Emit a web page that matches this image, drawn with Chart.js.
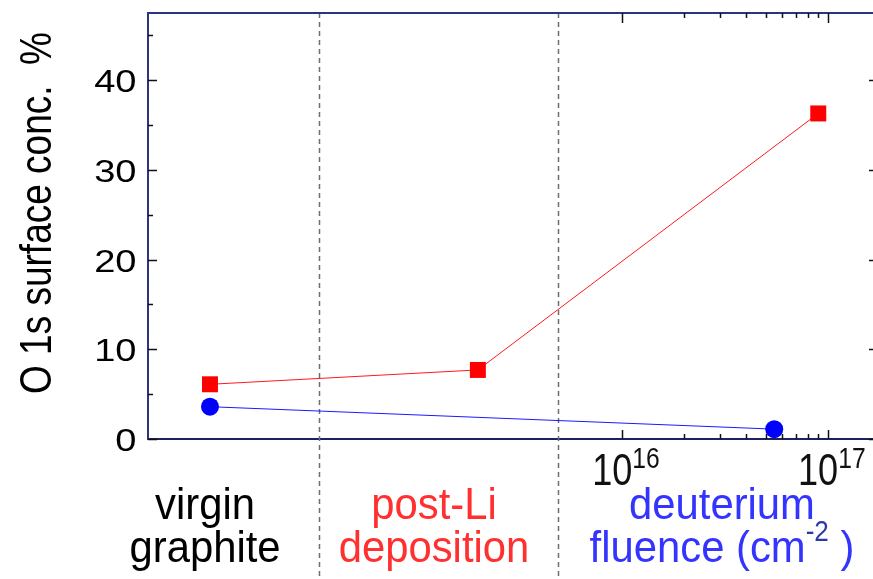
<!doctype html>
<html lang="en">
<head>
<meta charset="utf-8">
<title>O 1s surface concentration</title>
<style>
  * { margin: 0; padding: 0; }
  body { background: #fff; }
  #chart { display: block; }
</style>
</head>
<body>
<canvas id="chart" width="873" height="579"></canvas>
<script src="https://cdn.jsdelivr.net/npm/chart.js/dist/chart.umd.min.js"></script>
<script>
// x: first two entries place the virgin / post-Li stages on the fluence axis,
// the rest are deuterium fluences in cm^-2
const squareX = [1e14, 2e15, 9e16];
const squareO = [6.1, 7.7, 36.3];
const circleX = [1e14, 5.5e16];
const circleO = [3.6, 1.1];

// boundaries between the three stages
const stageEdges = [3.4e14, 4.9e15];

const yTicks = [0, 10, 20, 30, 40];
const yMinor = [5, 15, 25, 35, 45];
const fluenceTicks = [1e16, 2e16, 3e16, 4e16, 5e16, 6e16, 7e16, 8e16, 9e16, 1e17];
const fluenceMajor = [1e16, 1e17];
const fluenceExp = ['16', '17'];

const FONT = '"Liberation Sans", Arial, sans-serif';
const AXIS = '#2a3580';

function drawText(ctx, str, x, y, size, sx, color, align) {
  ctx.save();
  ctx.translate(x, y);
  ctx.scale(sx, 1);
  ctx.font = size + 'px ' + FONT;
  ctx.fillStyle = color;
  ctx.textAlign = align || 'left';
  ctx.textBaseline = 'alphabetic';
  ctx.fillText(str, 0, 0);
  ctx.restore();
}

function textWidth(ctx, str, size, sx) {
  ctx.font = size + 'px ' + FONT;
  return ctx.measureText(str).width * sx;
}

const decorations = {
  id: 'decorations',
  beforeDatasetsDraw(chart) {
    const {ctx, chartArea: a, scales: {x, y}} = chart;
    ctx.save();

    // stage separators
    ctx.strokeStyle = '#6e6e6e';
    ctx.lineWidth = 1.5;
    ctx.setLineDash([5, 4]);
    stageEdges.forEach(v => {
      const px = Math.round(x.getPixelForValue(v)) + 0.5;
      ctx.beginPath();
      ctx.moveTo(px, a.top);
      ctx.lineTo(px, chart.height);
      ctx.stroke();
    });
    ctx.setLineDash([]);

    // top frame
    ctx.strokeStyle = AXIS;
    ctx.lineWidth = 2;
    ctx.beginPath();
    ctx.moveTo(a.left - 1, a.top);
    ctx.lineTo(a.right, a.top);
    ctx.stroke();

    // inward ticks
    ctx.strokeStyle = '#111';
    ctx.lineWidth = 1.5;
    ctx.beginPath();
    yTicks.concat(yMinor).forEach(v => {
      const py = Math.round(y.getPixelForValue(v)) + 0.5;
      const len = yTicks.includes(v) ? 9 : 5;
      ctx.moveTo(a.left, py);
      ctx.lineTo(a.left + len, py);
      if (yTicks.includes(v)) {
        ctx.moveTo(a.right - 4, py);
        ctx.lineTo(a.right, py);
      }
    });
    fluenceTicks.forEach(v => {
      const px = Math.round(x.getPixelForValue(v)) + 0.5;
      const major = fluenceMajor.includes(v);
      ctx.moveTo(px, a.bottom);
      ctx.lineTo(px, a.bottom - (major ? 9 : 5));
      ctx.moveTo(px, a.top);
      ctx.lineTo(px, a.top + (major ? 10 : 5));
    });
    ctx.stroke();
    ctx.restore();
  },
  afterDraw(chart) {
    const {ctx, chartArea: a, scales: {x, y}} = chart;

    // y tick labels
    yTicks.forEach(v => {
      drawText(ctx, String(v), a.left - 11.5, y.getPixelForValue(v) + 12, 32, 1.19, '#000', 'right');
    });

    // y title
    ctx.save();
    ctx.translate(51, 213);
    ctx.rotate(-Math.PI / 2);
    ctx.scale(1, 1.2);
    ctx.font = '37px ' + FONT;
    ctx.fillStyle = '#000';
    ctx.textAlign = 'center';
    ctx.textBaseline = 'alphabetic';
    ctx.fillText('O 1s surface conc.  %', 0, 0);
    ctx.restore();

    // fluence decade labels
    fluenceMajor.forEach((v, i) => {
      const px = x.getPixelForValue(v) + 10.5;
      drawText(ctx, '10', px, 485, 44, 0.82, '#111', 'right');
      drawText(ctx, fluenceExp[i], px, 468, 29, 0.85, '#111', 'left');
    });

    // stage names
    const sx = 0.95, big = 44, small = 29;
    const rows = [519, 562];
    drawText(ctx, 'virgin', 205, rows[0], big, sx, '#000', 'center');
    drawText(ctx, 'graphite', 205, rows[1], big, sx, '#000', 'center');
    drawText(ctx, 'post-Li', 434, rows[0], big, sx, '#ff3030', 'center');
    drawText(ctx, 'deposition', 434, rows[1], big, sx, '#ff3030', 'center');
    drawText(ctx, 'deuterium', 722, rows[0], big, sx, '#3434ff', 'center');
    const p1 = 'fluence (cm', p2 = '-2', p3 = ' )';
    const w1 = textWidth(ctx, p1, big, sx);
    const w2 = textWidth(ctx, p2, small, 0.9);
    const w3 = textWidth(ctx, p3, big, sx);
    let left = 722 - (w1 + w2 + w3) / 2;
    drawText(ctx, p1, left, rows[1], big, sx, '#3434ff');
    drawText(ctx, p2, left + w1, rows[1] - 21, small, 0.9, '#2c3aa8');
    drawText(ctx, p3, left + w1 + w2, rows[1], big, sx, '#3434ff');
  }
};

new Chart(document.getElementById('chart'), {
  type: 'scatter',
  data: {
    datasets: [{
      data: squareX.map((v, i) => ({x: v, y: squareO[i]})),
      showLine: true,
      borderColor: '#ff1a1a',
      borderWidth: 1,
      backgroundColor: '#ff0000',
      pointStyle: 'rect',
      pointRadius: 11.3,
      pointBorderWidth: 0
    }, {
      data: circleX.map((v, i) => ({x: v, y: circleO[i]})),
      showLine: true,
      borderColor: '#1a1aff',
      borderWidth: 1,
      backgroundColor: '#0000ff',
      pointStyle: 'circle',
      pointRadius: 9,
      pointBorderWidth: 0
    }]
  },
  options: {
    responsive: false,
    animation: false,
    devicePixelRatio: 1,
    layout: {autoPadding: false, padding: {top: 13, right: 0, left: 0, bottom: 0}},
    plugins: {legend: {display: false}, tooltip: {enabled: false}},
    scales: {
      x: {
        type: 'logarithmic',
        bounds: 'data',
        min: 5e13,
        max: 1.66e17,
        ticks: {display: false},
        grid: {display: false},
        border: {color: '#1c2260', width: 2},
        afterFit: s => { s.height = 140; }
      },
      y: {
        min: 0,
        max: 47.5,
        ticks: {display: false},
        grid: {display: false},
        border: {color: AXIS, width: 2},
        afterFit: s => { s.width = 148; }
      }
    }
  },
  plugins: [decorations]
});
</script>
</body>
</html>
